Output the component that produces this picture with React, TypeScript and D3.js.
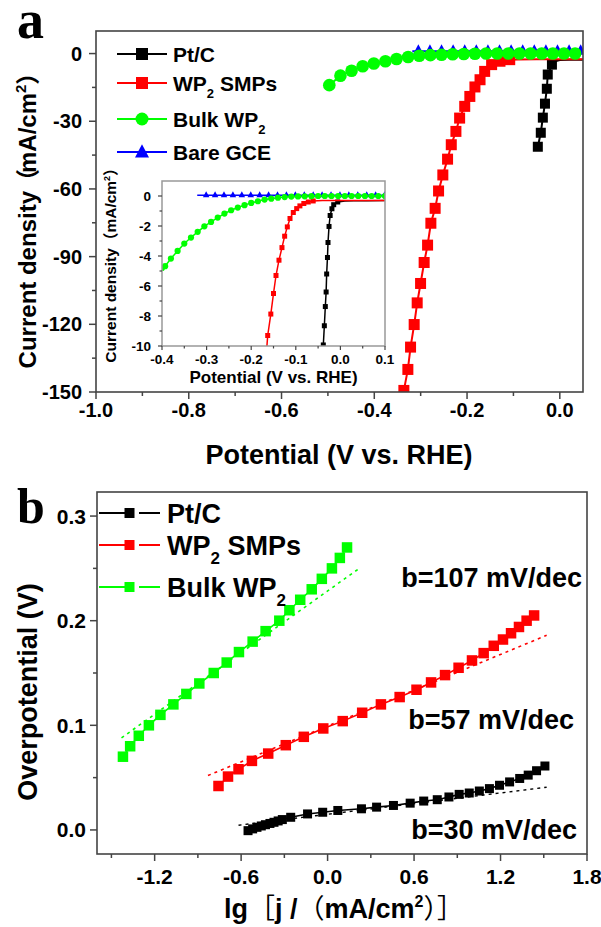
import React from 'react';
import * as d3 from 'd3';

type P = [number, number];

// ---------- Panel a (main) ----------
const ptcA: P[] = [[-0.0474, -41.3], [-0.041, -35.1], [-0.0366, -28.4], [-0.032, -22.2], [-0.028, -15.6], [-0.026, -9.3], [-0.017, -4.9]];
const ptcTailA: P[] = [[-0.01, -3.4], [0.0, -2.9], [0.02, -2.7], [0.05, -2.7]];
const wp2A: P[] = [[-0.3362, -149.3], [-0.3276, -140], [-0.3218, -130.1], [-0.314, -120.1], [-0.3075, -110.5], [-0.3002, -101.9], [-0.2925, -92.6], [-0.2851, -84.9], [-0.278, -75.2], [-0.2688, -68.6], [-0.2614, -60.9], [-0.2522, -53.8], [-0.242, -46.8], [-0.234, -40.4], [-0.224, -34.5], [-0.216, -28.6], [-0.205, -23.4], [-0.194, -19], [-0.183, -14.8], [-0.172, -11.6], [-0.162, -7.9], [-0.147, -4.9], [-0.129, -3.4], [-0.108, -2.7]];
const wp2TailA: P[] = [[-0.09, -2.6], [-0.05, -2.5], [0.05, -2.5]];
const bulkA: P[] = [[-0.497, -14], [-0.473, -9.8], [-0.449, -7.6], [-0.425, -5.6], [-0.401, -4.4], [-0.376, -3.4], [-0.352, -2.4], [-0.327, -1.5], [-0.303, -1.0], [-0.279, -0.7], [-0.255, -0.5], [-0.231, -0.3], [-0.207, -0.2], [-0.183, -0.1], [-0.159, 0], [-0.135, 0], [-0.111, 0], [-0.087, 0], [-0.063, 0], [-0.039, 0], [-0.015, 0], [0.009, 0], [0.033, 0]];
const gceStartA: P[] = [[-0.318, 1]];
const gceA: P[] = [[-0.305, 1], [-0.28, 1], [-0.255, 1], [-0.23, 1], [-0.205, 1], [-0.18, 1], [-0.155, 1], [-0.13, 1], [-0.105, 1], [-0.08, 1], [-0.055, 1], [-0.03, 1], [-0.005, 1], [0.02, 1], [0.045, 1]];

// ---------- Panel a (inset) ----------
const ptcI: P[] = [[-0.0383, -9.93], [-0.036, -8.65], [-0.0338, -7.37], [-0.032, -6.4], [-0.0308, -5.2], [-0.029, -4.1], [-0.0278, -3.1], [-0.0255, -2.03], [-0.023, -1.3], [-0.019, -0.85], [-0.015, -0.58], [-0.006, -0.4]];
const ptcTailI: P[] = [[0.01, -0.33], [0.03, -0.32], [0.06, -0.31], [0.1, -0.3]];
const wp2I: P[] = [[-0.163, -9.3], [-0.156, -7.87], [-0.15, -6.5], [-0.1444, -5.3], [-0.1377, -4.28], [-0.131, -3.44], [-0.125, -2.68], [-0.119, -2.06], [-0.113, -1.5], [-0.1056, -1.1], [-0.098, -0.84], [-0.0908, -0.66], [-0.082, -0.5], [-0.072, -0.4], [-0.061, -0.33]];
const wp2HeadI: P[] = [[-0.166, -10.5]];
const wp2TailI: P[] = [[-0.04, -0.3], [0.1, -0.3]];
const bulkI: P[] = [[-0.4, -4.8], [-0.393, -4.68], [-0.38, -4.17], [-0.365, -3.66], [-0.35, -3.17], [-0.335, -2.77], [-0.32, -2.39], [-0.305, -2.02], [-0.29, -1.73], [-0.275, -1.44], [-0.26, -1.17], [-0.245, -0.95], [-0.23, -0.77], [-0.215, -0.61], [-0.2, -0.46], [-0.185, -0.35], [-0.17, -0.24], [-0.155, -0.18], [-0.14, -0.11], [-0.125, -0.07], [-0.11, -0.04], [-0.095, -0.03], [-0.08, -0.02], [-0.065, -0.01], [-0.05, 0], [-0.035, 0], [-0.02, 0], [-0.005, 0], [0.01, 0], [0.025, 0], [0.04, 0], [0.055, 0], [0.07, 0], [0.085, 0], [0.1, 0]];
const gceStartI: P[] = [[-0.321, 0.05]];
const gceI: P[] = [[-0.301, 0.05], [-0.281, 0.05], [-0.261, 0.05], [-0.241, 0.05], [-0.221, 0.05], [-0.201, 0.05], [-0.181, 0.05], [-0.161, 0.05], [-0.141, 0.05], [-0.121, 0.05], [-0.101, 0.05], [-0.081, 0.05], [-0.061, 0.05], [-0.041, 0.05], [-0.021, 0.05], [-0.001, 0.05], [0.019, 0.05], [0.039, 0.05], [0.059, 0.05], [0.079, 0.05], [0.099, 0.05]];

// ---------- Panel b (Tafel) ----------
const ptcB: P[] = [[-0.552, -0.0007], [-0.52, 0.001], [-0.49, 0.0025], [-0.46, 0.0038], [-0.431, 0.005], [-0.4, 0.0062], [-0.372, 0.0073], [-0.343, 0.0086], [-0.314, 0.0099], [-0.256, 0.0121], [-0.139, 0.0153], [-0.034, 0.0169], [0.071, 0.0186], [0.235, 0.0202], [0.34, 0.0218], [0.457, 0.0234], [0.573, 0.0256], [0.667, 0.0276], [0.761, 0.0289], [0.842, 0.0315], [0.913, 0.034], [0.983, 0.0353], [1.053, 0.0372], [1.123, 0.0395], [1.193, 0.0427], [1.263, 0.0459], [1.333, 0.0492], [1.392, 0.0524], [1.45, 0.0566], [1.508, 0.0611]];
const wp2B: P[] = [[-0.757, 0.042], [-0.691, 0.051], [-0.618, 0.058], [-0.525, 0.066], [-0.412, 0.073], [-0.29, 0.081], [-0.165, 0.089], [-0.03, 0.097], [0.105, 0.104], [0.24, 0.112], [0.37, 0.12], [0.5, 0.127], [0.617, 0.134], [0.718, 0.141], [0.815, 0.148], [0.909, 0.155], [1.002, 0.162], [1.083, 0.169], [1.153, 0.176], [1.217, 0.182], [1.273, 0.188], [1.328, 0.194], [1.381, 0.2], [1.433, 0.205]];
const bulkB: P[] = [[-1.42, 0.07], [-1.37, 0.08], [-1.31, 0.09], [-1.24, 0.1], [-1.16, 0.11], [-1.07, 0.12], [-0.98, 0.13], [-0.89, 0.14], [-0.79, 0.15], [-0.7, 0.16], [-0.615, 0.17], [-0.52, 0.18], [-0.43, 0.19], [-0.335, 0.2], [-0.265, 0.21], [-0.19, 0.22], [-0.11, 0.23], [-0.04, 0.24], [0.03, 0.25], [0.085, 0.26], [0.135, 0.27]];
const ptcFitB: P[] = [[-0.618, 0.0045], [1.52, 0.0408]];
const wp2FitB: P[] = [[-0.83, 0.052], [1.52, 0.186]];
const bulkFitB: P[] = [[-1.43, 0.088], [0.23, 0.251]];

// ---------- Ticks ----------
const xTicksA = [-1.0, -0.8, -0.6, -0.4, -0.2, 0.0];
const xMinorA = [-0.9, -0.7, -0.5, -0.3, -0.1];
const yTicksA = [0, -30, -60, -90, -120, -150];
const yMinorA = [-15, -45, -75, -105, -135];
const xTicksI = [-0.4, -0.3, -0.2, -0.1, 0.0, 0.1];
const xMinorI = [-0.35, -0.25, -0.15, -0.05, 0.05];
const yTicksI = [0, -2, -4, -6, -8, -10];
const yMinorI = [-1, -3, -5, -7, -9];
const xTicksB = [-1.2, -0.6, 0.0, 0.6, 1.2, 1.8];
const xMinorB = [-1.5, -0.9, -0.3, 0.3, 0.9, 1.5];
const yTicksB = [0.0, 0.1, 0.2, 0.3];
const yMinorB = [0.05, 0.15, 0.25];

const slopes = ['b=107 mV/dec', 'b=57 mV/dec', 'b=30 mV/dec'];

const BLACK = '#000000';
const RED = '#ff0000';
const GREEN = '#00ff00';
const BLUE = '#0000ff';
const FONT = "'Liberation Sans', Arial, Helvetica, sans-serif";
const CJK = "'Noto Sans CJK SC', sans-serif";
const SERIF = "'Liberation Serif', 'Times New Roman', serif";
const AXC = '#444';

function Square({ x, y, s, c }: { x: number; y: number; s: number; c: string }) {
  return <rect x={x - s / 2} y={y - s / 2} width={s} height={s} fill={c} />;
}
function Tri({ x, y, s, c }: { x: number; y: number; s: number; c: string }) {
  const h = s * 0.95;
  const d = `M${x},${y - (h * 2) / 3}L${x - s / 2},${y + h / 3}L${x + s / 2},${y + h / 3}Z`;
  return <path d={d} fill={c} />;
}

export default function App() {
  // scales
  const xA = d3.scaleLinear().domain([-1, 0.05]).range([96, 583]);
  const yA = d3.scaleLinear().domain([-150, 10]).range([392, 31]);
  const xI = d3.scaleLinear().domain([-0.4, 0.1]).range([162, 385]);
  const yI = d3.scaleLinear().domain([-10, 1]).range([346, 181]);
  const xB = d3.scaleLinear().domain([-1.6, 1.8]).range([97, 587]);
  const yB = d3.scaleLinear().domain([-0.023, 0.323]).range([854, 492]);

  const lA = d3.line<P>().x((d) => xA(d[0])).y((d) => yA(d[1]));
  const lI = d3.line<P>().x((d) => xI(d[0])).y((d) => yI(d[1]));
  const lB = d3.line<P>().x((d) => xB(d[0])).y((d) => yB(d[1]));

  const [aL, aR] = xA.range();
  const [aB, aT] = yA.range();
  const [iL, iR] = xI.range();
  const [iB, iT] = yI.range();
  const [bL, bR] = xB.range();
  const [bB, bT] = yB.range();

  const legendA = [
    { label: 'Pt/C', sub: '', c: BLACK, m: 'sq', y: 54 },
    { label: 'WP', sub: '2', tail: ' SMPs', c: RED, m: 'sq', y: 83 },
    { label: 'Bulk WP', sub: '2', c: GREEN, m: 'ci', y: 119 },
    { label: 'Bare GCE', sub: '', c: BLUE, m: 'tr', y: 152 },
  ];
  const legendB = [
    { label: 'Pt/C', sub: '', c: BLACK, y: 513 },
    { label: 'WP', sub: '2', tail: ' SMPs', c: RED, y: 545 },
    { label: 'Bulk WP', sub: '2', c: GREEN, y: 587 },
  ];

  return (
    <svg width={601} height={927} style={{ position: 'absolute', left: 0, top: 0, background: '#fff' }} fontFamily={FONT}>
      <defs>
        <clipPath id="clipA"><rect x={aL} y={aT} width={aR - aL} height={aB - aT} /></clipPath>
        <clipPath id="clipI"><rect x={iL} y={iT} width={iR - iL} height={iB - iT} /></clipPath>
        <clipPath id="clipB"><rect x={bL} y={bT} width={bR - bL} height={bB - bT} /></clipPath>
      </defs>
      <rect x={0} y={0} width={601} height={927} fill="#fff" />

      {/* ================= PANEL A ================= */}
      <text x={17} y={38} fontFamily={SERIF} fontWeight="bold" fontSize={54}>a</text>
      <g clipPath="url(#clipA)">
        <path d={lA([...ptcA, ...ptcTailA]) || ''} fill="none" stroke={BLACK} strokeWidth={2} />
        {ptcA.map((d, i) => <Square key={'pa' + i} x={xA(d[0])} y={yA(d[1])} s={10} c={BLACK} />)}
        <path d={lA([...wp2A, ...wp2TailA]) || ''} fill="none" stroke={RED} strokeWidth={2} />
        {wp2A.map((d, i) => <Square key={'wa' + i} x={xA(d[0])} y={yA(d[1])} s={11} c={RED} />)}
        <path d={lA([...gceStartA, ...gceA]) || ''} fill="none" stroke={BLUE} strokeWidth={2} />
        {gceA.map((d, i) => <Tri key={'ga' + i} x={xA(d[0])} y={yA(d[1])} s={11} c={BLUE} />)}
        <path d={lA(bulkA) || ''} fill="none" stroke={GREEN} strokeWidth={2} />
        {bulkA.map((d, i) => <circle key={'ba' + i} cx={xA(d[0])} cy={yA(d[1])} r={6.3} fill={GREEN} />)}
      </g>
      <rect x={aL} y={aT} width={aR - aL} height={aB - aT} fill="none" stroke={AXC} strokeWidth={1.6} />
      {xTicksA.map((t) => (
        <g key={'xta' + t}>
          <line x1={xA(t)} x2={xA(t)} y1={aB} y2={aB + 7} stroke={AXC} strokeWidth={1.5} />
          <text x={xA(t)} y={417} textAnchor="middle" fontSize={20} fontWeight="bold">{t.toFixed(1)}</text>
        </g>
      ))}
      {xMinorA.map((t) => <line key={'xma' + t} x1={xA(t)} x2={xA(t)} y1={aB} y2={aB + 4} stroke={AXC} strokeWidth={1.5} />)}
      {yTicksA.map((t) => (
        <g key={'yta' + t}>
          <line x1={aL - 7} x2={aL} y1={yA(t)} y2={yA(t)} stroke={AXC} strokeWidth={1.5} />
          <text x={82} y={yA(t) + 7} textAnchor="end" fontSize={20} fontWeight="bold">{String(t)}</text>
        </g>
      ))}
      {yMinorA.map((t) => <line key={'yma' + t} x1={aL - 4} x2={aL} y1={yA(t)} y2={yA(t)} stroke={AXC} strokeWidth={1.5} />)}
      <text x={339} y={464} textAnchor="middle" fontSize={27} fontWeight="bold">Potential (V vs. RHE)</text>
      <text transform={`translate(36,${(aT + aB) / 2 + 3}) rotate(-90)`} textAnchor="middle" fontSize={24} fontWeight="bold">
        Current density<tspan dx={-2} fontFamily={CJK}>（</tspan><tspan dx={-4}>mA/cm</tspan><tspan dy={-10} fontSize={15}>2</tspan><tspan dy={10} fontFamily={CJK}>）</tspan>
      </text>

      {/* legend A */}
      {legendA.map((e) => (
        <g key={'la' + e.label}>
          <line x1={117} x2={167} y1={e.y} y2={e.y} stroke={e.c} strokeWidth={2} />
          {e.m === 'sq' && <Square x={142} y={e.y} s={12} c={e.c} />}
          {e.m === 'ci' && <circle cx={142} cy={e.y} r={6.5} fill={e.c} />}
          {e.m === 'tr' && <Tri x={142} y={e.y + 1} s={14} c={e.c} />}
          <text x={173} y={e.y + 7.5} fontSize={21} fontWeight="bold">
            {e.label}
            {e.sub && <tspan dy={7} fontSize={13}>{e.sub}</tspan>}
            {e.tail && <tspan dy={-7}>{e.tail}</tspan>}
          </text>
        </g>
      ))}

      {/* inset */}
      <rect x={iL} y={iT} width={iR - iL} height={iB - iT} fill="#fff" />
      <g clipPath="url(#clipI)">
        <path d={lI([...ptcI, ...ptcTailI]) || ''} fill="none" stroke={BLACK} strokeWidth={1.5} />
        {ptcI.map((d, i) => <Square key={'pi' + i} x={xI(d[0])} y={yI(d[1])} s={5} c={BLACK} />)}
        <path d={lI([...wp2HeadI, ...wp2I, ...wp2TailI]) || ''} fill="none" stroke={RED} strokeWidth={1.5} />
        {wp2I.map((d, i) => <Square key={'wi' + i} x={xI(d[0])} y={yI(d[1])} s={5} c={RED} />)}
        <path d={lI([...gceStartI, ...gceI]) || ''} fill="none" stroke={BLUE} strokeWidth={1.5} />
        {gceI.map((d, i) => <Tri key={'gi' + i} x={xI(d[0])} y={yI(d[1])} s={6.5} c={BLUE} />)}
        <path d={lI(bulkI) || ''} fill="none" stroke={GREEN} strokeWidth={1.5} />
        {bulkI.map((d, i) => <circle key={'bi' + i} cx={xI(d[0])} cy={yI(d[1])} r={3.1} fill={GREEN} />)}
      </g>
      <rect x={iL} y={iT} width={iR - iL} height={iB - iT} fill="none" stroke="#999" strokeWidth={1.5} />
      {xTicksI.map((t) => (
        <g key={'xti' + t}>
          <line x1={xI(t)} x2={xI(t)} y1={iB} y2={iB + 4} stroke={AXC} strokeWidth={1.2} />
          <text x={xI(t)} y={364} textAnchor="middle" fontSize={13.5} fontWeight="bold">{t.toFixed(1)}</text>
        </g>
      ))}
      {xMinorI.map((t) => <line key={'xmi' + t} x1={xI(t)} x2={xI(t)} y1={iB} y2={iB + 2.5} stroke={AXC} strokeWidth={1.2} />)}
      {yTicksI.map((t) => (
        <g key={'yti' + t}>
          <line x1={iL - 4} x2={iL} y1={yI(t)} y2={yI(t)} stroke={AXC} strokeWidth={1.2} />
          <text x={151} y={yI(t) + 5} textAnchor="end" fontSize={13.5} fontWeight="bold">{String(t)}</text>
        </g>
      ))}
      {yMinorI.map((t) => <line key={'ymi' + t} x1={iL - 2.5} x2={iL} y1={yI(t)} y2={yI(t)} stroke={AXC} strokeWidth={1.2} />)}
      <text x={(iL + iR) / 2} y={383} textAnchor="middle" fontSize={17} fontWeight="bold">Potential (V vs. RHE)</text>
      <text transform={`translate(116,${(iT + iB) / 2 - 2}) rotate(-90)`} textAnchor="middle" fontSize={15.5} fontWeight="bold">
        Current density<tspan fontFamily={CJK}>（</tspan>mA/cm<tspan dy={-6} fontSize={9}>2</tspan><tspan dy={6} fontFamily={CJK}>）</tspan>
      </text>

      {/* ================= PANEL B ================= */}
      <text x={17} y={523} fontFamily={SERIF} fontWeight="bold" fontSize={50}>b</text>
      <g clipPath="url(#clipB)">
        <path d={lB(bulkFitB) || ''} fill="none" stroke={GREEN} strokeWidth={1.6} strokeDasharray="3 4" />
        <path d={lB(wp2FitB) || ''} fill="none" stroke={RED} strokeWidth={1.6} strokeDasharray="3 4" />
        <path d={lB(ptcFitB) || ''} fill="none" stroke={BLACK} strokeWidth={1.4} strokeDasharray="3 4" />
        <path d={lB(bulkB) || ''} fill="none" stroke={GREEN} strokeWidth={1.6} />
        {bulkB.map((d, i) => <Square key={'bb' + i} x={xB(d[0])} y={yB(d[1])} s={10.5} c={GREEN} />)}
        <path d={lB(wp2B) || ''} fill="none" stroke={RED} strokeWidth={1.6} />
        {wp2B.map((d, i) => <Square key={'wb' + i} x={xB(d[0])} y={yB(d[1])} s={10.5} c={RED} />)}
        <path d={lB(ptcB) || ''} fill="none" stroke={BLACK} strokeWidth={1.6} />
        {ptcB.map((d, i) => <Square key={'pb' + i} x={xB(d[0])} y={yB(d[1])} s={9} c={BLACK} />)}
      </g>
      <rect x={bL} y={bT} width={bR - bL} height={bB - bT} fill="none" stroke={AXC} strokeWidth={1.6} />
      {xTicksB.map((t) => (
        <g key={'xtb' + t}>
          <line x1={xB(t)} x2={xB(t)} y1={bB} y2={bB + 7} stroke={AXC} strokeWidth={1.5} />
          <text x={xB(t)} y={884} textAnchor="middle" fontSize={21} fontWeight="bold">{t.toFixed(1)}</text>
        </g>
      ))}
      {xMinorB.map((t) => <line key={'xmb' + t} x1={xB(t)} x2={xB(t)} y1={bB} y2={bB + 4} stroke={AXC} strokeWidth={1.5} />)}
      {yTicksB.map((t) => (
        <g key={'ytb' + t}>
          <line x1={bL - 7} x2={bL} y1={yB(t)} y2={yB(t)} stroke={AXC} strokeWidth={1.5} />
          <text x={86} y={yB(t) + 7.5} textAnchor="end" fontSize={21} fontWeight="bold">{t.toFixed(1)}</text>
        </g>
      ))}
      {yMinorB.map((t) => <line key={'ymb' + t} x1={bL - 4} x2={bL} y1={yB(t)} y2={yB(t)} stroke={AXC} strokeWidth={1.5} />)}
      <text transform={`translate(37,692) rotate(-90)`} textAnchor="middle" fontSize={27} fontWeight="bold">Overpotential (V)</text>
      <text x={344} y={918} textAnchor="middle" fontSize={27} fontWeight="bold">
        lg<tspan fontFamily={CJK} fontWeight="normal">［</tspan>j /<tspan fontFamily={CJK} fontWeight="normal">（</tspan>mA/cm<tspan dy={-11} fontSize={16}>2</tspan><tspan dy={11} fontFamily={CJK} fontWeight="normal">）］</tspan>
      </text>

      {/* legend B */}
      {legendB.map((e) => (
        <g key={'lb' + e.label}>
          <line x1={99} x2={128} y1={e.y} y2={e.y} stroke={e.c} strokeWidth={2} />
          <line x1={139} x2={160} y1={e.y} y2={e.y} stroke={e.c} strokeWidth={2} />
          <Square x={129.5} y={e.y} s={10} c={e.c} />
          <text x={167} y={e.y + 10} fontSize={27} fontWeight="bold">
            {e.label}
            {e.sub && <tspan dy={9} fontSize={17}>{e.sub}</tspan>}
            {e.tail && <tspan dy={-9}>{e.tail}</tspan>}
          </text>
        </g>
      ))}

      <text x={582} y={587} textAnchor="end" fontSize={27} fontWeight="bold">{slopes[0]}</text>
      <text x={574} y={729} textAnchor="end" fontSize={27} fontWeight="bold">{slopes[1]}</text>
      <text x={577} y={839} textAnchor="end" fontSize={27} fontWeight="bold">{slopes[2]}</text>
    </svg>
  );
}
